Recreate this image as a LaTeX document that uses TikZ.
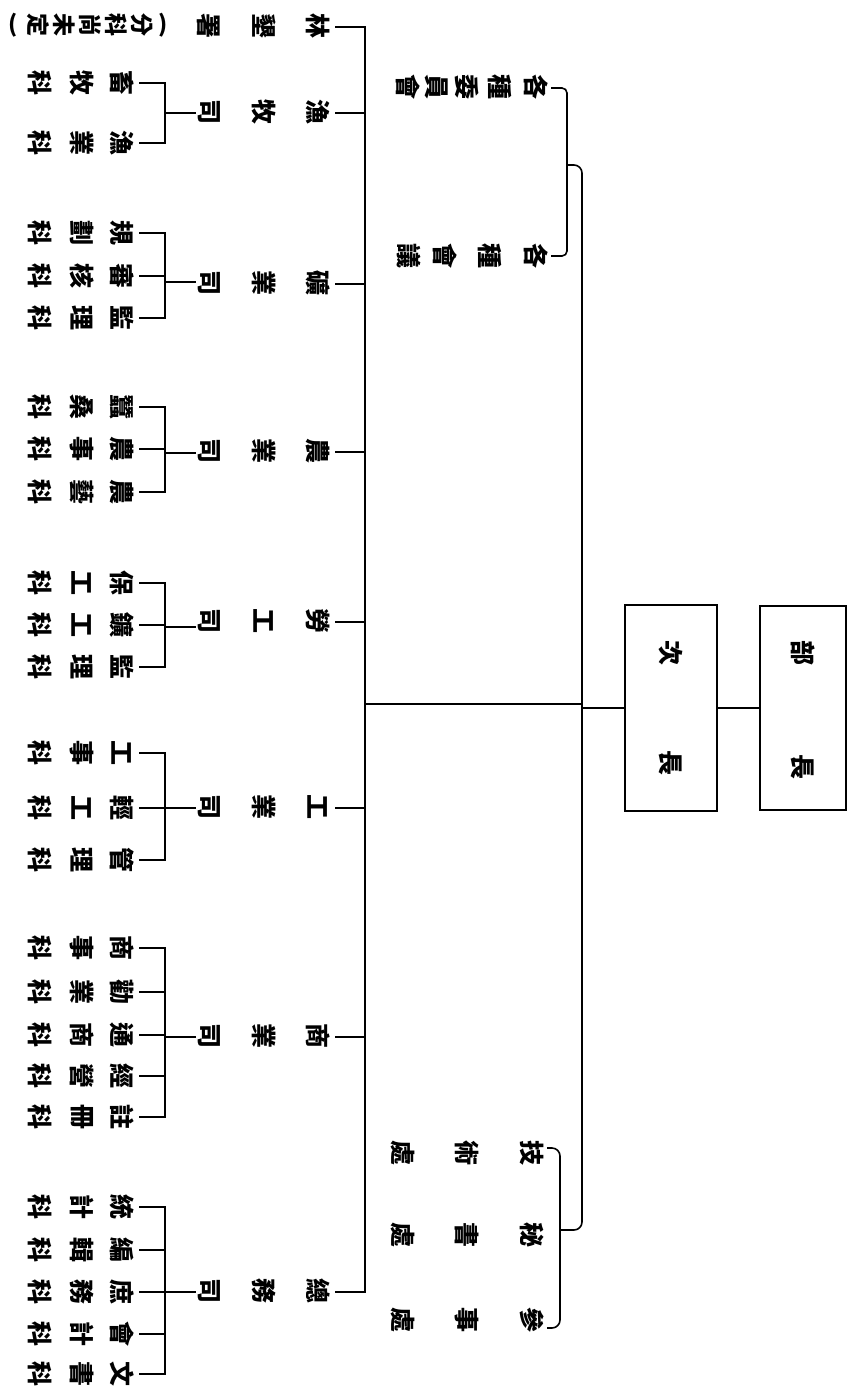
\documentclass[tikz,border=0pt]{standalone}
\usepackage{fontspec}
\setmainfont{Noto Sans CJK TC}
\newcommand\dept[5]{%
  \node[ch] (#1a) at (318,#2-1) {#3};
  \node[ch] (#1b) at (264,#2-1) {#4};
  \node[ch] (#1c) at (209,#2-1) {#5};
  \coordinate (#1bar) at (365,#2);
  \coordinate (#1tip) at (336,#2);
  \draw[ln] (#1bar) -- (#1tip);
}
\newcommand\sect[4]{%
  \node[ch] (#1a) at (122,#2) {#3};
  \node[ch] (#1b) at (82,#2) {#4};
  \node[ch] (#1c) at (40,#2) {科};
  \coordinate (#1k) at (165,#2);
  \coordinate (#1t) at (140,#2);
  \draw[ln] (#1k) -- (#1t);
}
\newcommand\grp[4]{% id, top id, bottom id, link y
  \draw[ln] (#2k) -- (#3k);
  \coordinate (#1l) at (165,#4);
  \coordinate (#1r) at (195,#4);
  \draw[ln] (#1l) -- (#1r);
}
\begin{document}
\begin{tikzpicture}[x=1pt,y=-1pt,
  ch/.style={rotate=-90, inner sep=0pt, font=\fontsize{25}{25}\selectfont\bfseries},
  chs/.style={rotate=-90, inner sep=0pt, font=\fontsize{23}{23}\selectfont\bfseries},
  ln/.style={line width=1.6pt, line cap=rect},
  boxst/.style={draw, line width=1.8pt, inner sep=0pt}]
\useasboundingbox (0,0) rectangle (849,1390);
\fill[white] (0,0) rectangle (849,1390);

% chief boxes
\node[boxst, minimum width=86pt, minimum height=204pt] (buzhang) at (803,708) {};
\node[ch] (bz1) at (803,653) {部};
\node[ch] (bz2) at (803,767) {長};
\node[boxst, minimum width=92pt, minimum height=206pt] (cizhang) at (671,708) {};
\node[ch] (cz1) at (671,653) {次};
\node[ch] (cz2) at (671,763) {長};
\draw[ln] (buzhang.west) -- (cizhang.east);
\coordinate (vj) at (582,708);
\coordinate (vj2) at (582,704);
\coordinate (mb) at (365,704);
\draw[ln] (cizhang.west) -- (vj);
\draw[ln] (vj2) -- (mb);

% main bar
\coordinate (bartop) at (365,27);
\coordinate (barbot) at (365,1292);
\draw[ln] (bartop) -- (barbot);

% long side connector with brackets
\coordinate (t1) at (552,88);
\coordinate (t2) at (567,88);
\coordinate (t3) at (567,256);
\coordinate (t4) at (552,256);
\draw[ln, rounded corners=5pt] (t1) -- (t2) -- (t3) -- (t4);
\coordinate (m1) at (567,165);
\coordinate (m2) at (582,165);
\coordinate (m3) at (582,1230);
\coordinate (m4) at (560,1230);
\draw[ln, rounded corners=8pt] (m1) -- (m2) -- (m3) -- (m4);
\coordinate (u1) at (548,1148);
\coordinate (u2) at (560,1148);
\coordinate (u3) at (560,1328);
\coordinate (u4) at (548,1328);
\draw[ln, rounded corners=8pt] (u1) -- (u2) -- (u3) -- (u4);

% committees
\node[ch] (w1) at (536,87) {各};
\node[ch] (w2) at (500,87) {種};
\node[ch] (w3) at (467,87) {委};
\node[ch] (w4) at (437,87) {員};
\node[ch] (w5) at (408,87) {會};
\node[ch] (h1) at (536,256) {各};
\node[ch] (h2) at (490,256) {種};
\node[ch] (h3) at (445,256) {會};
\node[ch] (h4) at (409,256) {議};

% offices
\node[ch] (o11) at (532,1153) {技};
\node[ch] (o12) at (467,1153) {術};
\node[ch] (o13) at (403,1153) {處};
\node[ch] (o21) at (532,1235) {秘};
\node[ch] (o22) at (467,1235) {書};
\node[ch] (o23) at (403,1235) {處};
\node[ch] (o31) at (532,1320) {參};
\node[ch] (o32) at (467,1320) {事};
\node[ch] (o33) at (403,1320) {處};

% departments
\dept{d1}{27}{林}{墾}{署}
\node (p0) at (13,25) {\fontsize{23}{23}\selectfont\bfseries (};
\node[chs] (p1) at (142,25) {分};
\node[chs] (p2) at (116,25) {科};
\node[chs] (p3) at (90,25) {尚};
\node[chs] (p4) at (64,25) {未};
\node[chs] (p5) at (38,25) {定};
\node (p6) at (163,25) {\fontsize{23}{23}\selectfont\bfseries )};

\dept{d2}{113}{漁}{牧}{司}
\sect{s21}{83}{畜}{牧}
\sect{s22}{143}{漁}{業}
\grp{g2}{s21}{s22}{113}

\dept{d3}{284}{礦}{業}{司}
\sect{s31}{233}{規}{劃}
\sect{s32}{276}{審}{核}
\sect{s33}{318}{監}{理}
\grp{g3}{s31}{s33}{282}

\dept{d4}{452}{農}{業}{司}
\sect{s41}{407}{蠶}{桑}
\sect{s42}{449}{農}{事}
\sect{s43}{492}{農}{藝}
\grp{g4}{s41}{s43}{453}

\dept{d5}{622}{勞}{工}{司}
\sect{s51}{583}{保}{工}
\sect{s52}{625}{鑛}{工}
\sect{s53}{667}{監}{理}
\grp{g5}{s51}{s53}{627}

\dept{d6}{808}{工}{業}{司}
\sect{s61}{753}{工}{事}
\sect{s62}{808}{輕}{工}
\sect{s63}{860}{管}{理}
\grp{g6}{s61}{s63}{808}

\dept{d7}{1037}{商}{業}{司}
\sect{s71}{948}{商}{事}
\sect{s72}{992}{勸}{業}
\sect{s73}{1035}{通}{商}
\sect{s74}{1076}{經}{營}
\sect{s75}{1117}{註}{冊}
\grp{g7}{s71}{s75}{1037}

\dept{d8}{1292}{總}{務}{司}
\sect{s81}{1207}{統}{計}
\sect{s82}{1250}{編}{輯}
\sect{s83}{1292}{庶}{務}
\sect{s84}{1334}{會}{計}
\sect{s85}{1374}{文}{書}
\grp{g8}{s81}{s85}{1292}
\end{tikzpicture}
\end{document}
